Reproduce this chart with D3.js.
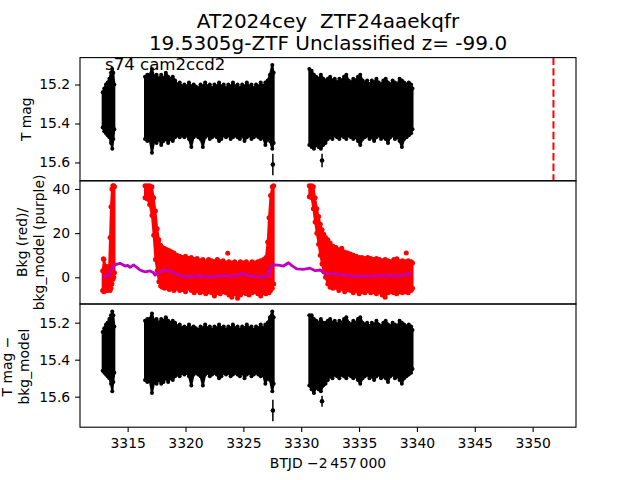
<!DOCTYPE html>
<html><head><meta charset="utf-8">
<script src="https://cdn.jsdelivr.net/npm/d3@7"></script>
<style>body{margin:0;background:#fff}svg{display:block}text{font-family:"DejaVu Sans",sans-serif}</style>
</head><body><svg id="c" width="640" height="480"></svg>
<script>
// ---------------- DATA ----------------
const titleLine1 = "AT2024cey  ZTF24aaekqfr";
const titleLine2 = "19.5305g-ZTF Unclassified z= -99.0";
const sectorLabel = "s74 cam2ccd2";
const xLabel = "BTJD \u22122\u2009457\u2009000";
const xTickValues = [3315,3320,3325,3330,3335,3340,3345,3350];
const magTickValues = [15.2,15.4,15.6];
const bkgTickValues = [0,20,40];
const eventTime = 3351.8;

// light-curve envelope (binned): times, brightest (top) and faintest (bottom) T mag incl. error bars
const lcTime = [3312.84,3312.98,3313.13,3313.27,3313.42,3313.56,3313.67,3313.76,3313.85,
3316.5,3316.7,3316.9,3317.1,3317.3,3317.5,3317.7,3317.9,3318.1,3318.3,3318.5,3318.7,3318.9,3319.1,3319.3,3319.5,3319.7,3319.9,3320.1,3320.3,3320.5,3320.7,3320.9,3321.1,3321.3,3321.5,3321.7,3321.9,3322.1,3322.3,3322.5,3322.7,3322.9,3323.1,3323.3,3323.5,3323.7,3323.9,3324.1,3324.3,3324.5,3324.7,3324.9,3325.1,3325.3,3325.5,3325.7,3325.9,3326.1,3326.3,3326.5,3326.7,3326.9,3327.1,3327.3,3327.5,3327.62,
3330.7,3330.9,3331.1,3331.3,3331.5,3331.7,3331.9,3332.1,3332.3,3332.5,3332.7,3332.9,3333.1,3333.3,3333.5,3333.7,3333.9,3334.1,3334.3,3334.5,3334.7,3334.9,3335.1,3335.3,3335.5,3335.7,3335.9,3336.1,3336.3,3336.5,3336.7,3336.9,3337.1,3337.3,3337.5,3337.7,3337.9,3338.1,3338.3,3338.5,3338.7,3338.9,3339.1,3339.3,3339.5,3339.62];
const magTop = [15.24,15.22,15.20,15.19,15.17,15.14,15.12,15.14,15.20,
15.16,15.15,15.15,15.12,15.16,15.15,15.17,15.15,15.17,15.14,15.16,15.17,15.16,15.18,15.20,15.19,15.21,15.20,15.21,15.19,15.21,15.20,15.21,15.22,15.20,15.21,15.19,15.21,15.20,15.22,15.20,15.21,15.19,15.21,15.20,15.22,15.20,15.21,15.19,15.21,15.20,15.22,15.20,15.21,15.19,15.21,15.20,15.22,15.20,15.21,15.19,15.21,15.19,15.18,15.15,15.10,15.14,
15.12,15.13,15.15,15.16,15.17,15.15,15.17,15.18,15.17,15.16,15.18,15.17,15.19,15.17,15.18,15.16,15.15,15.18,15.19,15.17,15.18,15.16,15.15,15.18,15.19,15.18,15.20,15.18,15.19,15.17,15.19,15.20,15.18,15.17,15.19,15.20,15.18,15.19,15.20,15.17,15.18,15.19,15.20,15.19,15.20,15.22];
const magBottom = [15.42,15.44,15.45,15.46,15.47,15.50,15.53,15.48,15.43,
15.48,15.49,15.48,15.55,15.49,15.50,15.48,15.51,15.49,15.48,15.50,15.48,15.49,15.47,15.46,15.47,15.46,15.47,15.46,15.48,15.52,15.47,15.46,15.47,15.48,15.52,15.47,15.46,15.48,15.47,15.46,15.47,15.49,15.48,15.46,15.47,15.46,15.48,15.47,15.46,15.47,15.48,15.46,15.49,15.47,15.46,15.48,15.47,15.46,15.47,15.48,15.47,15.51,15.48,15.49,15.53,15.50,
15.51,15.52,15.53,15.51,15.52,15.53,15.51,15.50,15.48,15.47,15.48,15.46,15.47,15.48,15.46,15.47,15.48,15.46,15.47,15.48,15.47,15.49,15.51,15.48,15.47,15.46,15.48,15.47,15.49,15.47,15.46,15.48,15.47,15.48,15.50,15.47,15.46,15.48,15.47,15.49,15.52,15.48,15.47,15.46,15.45,15.43];
// background-corrected light curve envelope (same bins)
const corrTop = [15.25,15.23,15.21,15.20,15.18,15.16,15.14,15.16,15.22,
15.19,15.18,15.18,15.15,15.19,15.18,15.20,15.18,15.19,15.17,15.19,15.20,15.19,15.20,15.22,15.21,15.23,15.22,15.23,15.21,15.23,15.22,15.23,15.24,15.22,15.23,15.21,15.23,15.22,15.24,15.22,15.23,15.21,15.23,15.22,15.24,15.22,15.23,15.21,15.23,15.22,15.24,15.22,15.23,15.21,15.23,15.22,15.24,15.22,15.23,15.21,15.23,15.21,15.20,15.17,15.14,15.17,
15.16,15.16,15.18,15.19,15.20,15.18,15.20,15.20,15.19,15.18,15.20,15.19,15.21,15.19,15.20,15.18,15.17,15.20,15.21,15.19,15.20,15.18,15.17,15.20,15.21,15.20,15.22,15.20,15.21,15.19,15.21,15.22,15.20,15.19,15.21,15.22,15.20,15.21,15.22,15.19,15.20,15.21,15.22,15.21,15.22,15.24];
const corrBottom = [15.46,15.47,15.48,15.49,15.50,15.53,15.57,15.52,15.47,
15.51,15.52,15.51,15.58,15.52,15.53,15.51,15.53,15.52,15.50,15.52,15.50,15.51,15.49,15.48,15.49,15.47,15.48,15.47,15.49,15.54,15.48,15.47,15.48,15.49,15.54,15.48,15.47,15.49,15.48,15.47,15.48,15.50,15.49,15.47,15.48,15.47,15.49,15.48,15.47,15.48,15.49,15.47,15.50,15.48,15.47,15.49,15.48,15.47,15.48,15.49,15.48,15.53,15.50,15.51,15.57,15.53,
15.54,15.56,15.58,15.55,15.56,15.57,15.54,15.53,15.51,15.49,15.50,15.48,15.49,15.50,15.48,15.49,15.50,15.48,15.49,15.50,15.49,15.51,15.53,15.50,15.49,15.48,15.50,15.49,15.51,15.49,15.48,15.50,15.49,15.50,15.52,15.49,15.48,15.50,15.49,15.51,15.53,15.50,15.49,15.48,15.47,15.45];
// isolated faint points with error bars
const outlierTime = [3327.55,3331.8];
const outlierMag = [15.61,15.59];
const outlierErr = [0.055,0.035];
const outlierCorr = [15.675,15.625];
const outlierCorrErr = [0.058,0.03];

// background flux envelope (red)
const bkgTime = [3312.84,3312.95,3313.1,3313.25,3313.4,3313.48,3313.56,3313.64,3313.72,3313.8,3313.86,
3316.5,3316.7,3316.9,3317.1,3317.25,3317.4,3317.55,3317.7,3317.85,3318.0,3318.2,3318.4,3318.6,3318.8,3319.0,3319.25,3319.5,3319.75,3320.0,3320.25,3320.5,3320.75,3321.0,3321.25,3321.5,3321.75,3322.0,3322.25,3322.5,3322.75,3323.0,3323.25,3323.5,3323.75,3324.0,3324.25,3324.5,3324.75,3325.0,3325.25,3325.5,3325.75,3326.0,3326.25,3326.5,3326.75,3326.95,3327.1,3327.22,3327.35,3327.5,3327.62,
3330.7,3330.9,3331.05,3331.2,3331.35,3331.5,3331.65,3331.8,3331.95,3332.1,3332.3,3332.5,3332.75,3333.0,3333.25,3333.5,3333.75,3334.0,3334.25,3334.5,3334.75,3335.0,3335.25,3335.5,3335.75,3336.0,3336.25,3336.5,3336.75,3337.0,3337.25,3337.5,3337.75,3338.0,3338.25,3338.5,3338.75,3339.0,3339.25,3339.5,3339.62];
const bkgHigh = [3,8,5,4,5,18,32,40,41.5,41.5,41,
41.5,41.5,41.5,41,36,30,22,17,14.5,13.5,13,12.5,12,11.5,11,10,9.5,9,9.5,8.5,9,8,8.5,7.5,8,7,8,7.5,7,8,7,7.5,6.5,7,6.5,7,6,7,6.5,7,6,7,6.5,7,7.5,8,9,16,27,37,41,41.5,
41.5,41.5,41,36,31,27.5,24,21.5,19.5,18,17,15.5,14,13.5,12.5,12,11.5,11,10.5,10,9.5,9,9,8.5,9,8.5,8,8.5,8,7.5,8,7.5,7,8,7.5,7,7.5,7,7.5,7,6.5];
const bkgLow = [-6,-6.5,-6,-6,-5.5,-6,-5,-3,-1,0,2,
36,35.5,33,28,19,8,3,-2,-4,-4.5,-5,-4,-5.5,-5,-6,-5,-6,-5.5,-6.5,-5,-6,-7,-6,-7,-6.5,-7.5,-6.5,-7,-8.5,-7,-7.5,-6.5,-7,-8,-9,-7.5,-9.5,-8,-7,-7.5,-8,-7,-6.5,-7.5,-8.5,-7,-7.5,-6,-7,-6,-5,-3,
36.5,36,31,25,20,15,10,6,2.5,0,-3,-4.5,-5,-4.5,-6,-5,-6.5,-5.5,-6,-7,-6,-7.5,-6.5,-7,-6,-7,-6.5,-7.5,-6.5,-8,-9,-7,-6.5,-7,-7.5,-6.5,-7,-6.5,-7,-6,-5];
const bkgDotTime = [3312.9,3323.65,3333.5,3338.27,3339.08];
const bkgDotValue = [8.4,10.9,13.1,8.4,11.0];

// background model (purple)
const modelTime = [3312.83,3313.1,3313.35,3313.5,3313.62,3313.8,3313.91,3314.1,3314.34,3314.55,3314.78,3315.0,3315.21,3315.35,3315.5,3315.79,3316.07,3316.3,3316.5,3316.94,3317.2,3317.37,3317.6,3317.8,3318.1,3318.38,3318.7,3318.95,3319.25,3319.53,3319.96,3320.3,3320.68,3321.0,3321.26,3321.8,3322.41,3322.9,3323.28,3323.7,3324.14,3324.6,3325.01,3325.3,3325.59,3326.0,3326.45,3327.03,3327.2,3327.32,3327.6,3328.03,3328.47,3328.9,3329.19,3329.62,3330.19,3330.77,3331.21,3331.64,3332.07,3332.6,3333.08,3333.5,3333.95,3334.4,3334.81,3335.2,3335.68,3336.1,3336.54,3337.0,3337.41,3337.8,3338.27,3338.7,3339.14,3339.57];
const modelValue = [0.6,0.5,0.9,1.8,4.1,5.0,5.6,6.0,6.3,5.8,5.1,5.4,4.5,5.0,5.6,4.5,3.3,2.8,2.5,2.9,2.2,1.0,1.8,2.5,3.0,3.3,2.6,2.1,1.5,1.0,0.0,0.4,0.3,0.8,0.6,0.2,0.3,0.6,1.0,0.5,0.6,1.2,1.8,0.9,0.6,0.4,0.3,0.3,0.8,4.5,5.6,5.5,5.1,6.6,5.3,3.8,3.6,4.1,3.0,3.3,1.8,1.7,1.5,1.2,1.0,0.6,0.3,0.6,0.3,0.5,0.6,0.8,1.0,0.7,0.6,1.0,1.5,1.5];

// ---------------- LAYOUT ----------------
const L = 80, R = 576;
const panelTop = [57.6, 180.8, 304.0];
const panelH = 123.2;
const FS = 13.9;
const svg = d3.select("#c");

const allT = lcTime.concat(bkgTime, modelTime, [eventTime]);
const [tMin, tMax] = d3.extent(allT);
const pad = 0.05 * (tMax - tMin);
const x = d3.scaleLinear().domain([tMin - pad, tMax + pad]).range([L, R]);

const y1 = d3.scaleLinear().domain([15.062, 15.694]).range([panelTop[0], panelTop[0] + panelH]);
const y2 = d3.scaleLinear().domain([-12.1, 43.7]).range([panelTop[1] + panelH, panelTop[1]]);
const y3 = d3.scaleLinear().domain([15.099, 15.765]).range([panelTop[2], panelTop[2] + panelH]);

const defs = svg.append("defs");
panelTop.forEach((t, i) => {
  defs.append("clipPath").attr("id", "clip" + i).append("rect")
    .attr("x", L).attr("y", t).attr("width", R - L).attr("height", panelH);
});

function segments(t, a, b) {
  const out = []; let cur = [];
  t.forEach((ti, i) => {
    if (cur.length && ti - cur[cur.length - 1].t > 1) { out.push(cur); cur = []; }
    cur.push({ t: ti, a: a[i], b: b[i] });
  });
  if (cur.length) out.push(cur);
  return out;
}

function band(g, y, t, a, b, color, r) {
  const segs = segments(t, a, b);
  const area = d3.area().x(d => x(d.t)).y0(d => y(d.a)).y1(d => y(d.b));
  g.selectAll(null).data(segs).join("path").attr("d", area)
    .attr("fill", color).attr("stroke", color).attr("stroke-width", 2).attr("stroke-linejoin", "round");
  const pts = segs.flat();
  g.selectAll(null).data(pts).join("circle").attr("cx", d => x(d.t)).attr("cy", d => y(d.a)).attr("r", r).attr("fill", color);
  g.selectAll(null).data(pts).join("circle").attr("cx", d => x(d.t)).attr("cy", d => y(d.b)).attr("r", r).attr("fill", color);
}

function outliers(g, y, mags, errs) {
  const d = outlierTime.map((t, i) => ({ t, m: mags[i], e: errs[i] }));
  g.selectAll(null).data(d).join("line")
    .attr("x1", p => x(p.t)).attr("x2", p => x(p.t))
    .attr("y1", p => y(p.m - p.e)).attr("y2", p => y(p.m + p.e))
    .attr("stroke", "#000").attr("stroke-width", 1.5);
  g.selectAll(null).data(d).join("circle").attr("cx", p => x(p.t)).attr("cy", p => y(p.m)).attr("r", 2.3).attr("fill", "#000");
}

// Panel 1
const g1 = svg.append("g").attr("clip-path", "url(#clip0)");
band(g1, y1, lcTime, magTop, magBottom, "#000", 2);
outliers(g1, y1, outlierMag, outlierErr);
g1.append("line").attr("x1", x(eventTime)).attr("x2", x(eventTime))
  .attr("y1", panelTop[0]).attr("y2", panelTop[0] + panelH)
  .attr("stroke", "#ff0000").attr("stroke-width", 2).attr("stroke-dasharray", "7.4,3.2");

// Panel 2
const g2 = svg.append("g").attr("clip-path", "url(#clip1)");
band(g2, y2, bkgTime, bkgLow, bkgHigh, "#ff0000", 2.5);
g2.selectAll(null).data(bkgDotTime.map((t, i) => ({ t, v: bkgDotValue[i] }))).join("circle")
  .attr("cx", d => x(d.t)).attr("cy", d => y2(d.v)).attr("r", 2.5).attr("fill", "#ff0000");
const line = d3.line().x(d => x(d.t)).y(d => y2(d.v));
g2.append("path").datum(modelTime.map((t, i) => ({ t, v: modelValue[i] })))
  .attr("d", line).attr("fill", "none").attr("stroke", "#bf00bf").attr("stroke-width", 2.8).attr("stroke-linejoin", "round");

// Panel 3
const g3 = svg.append("g").attr("clip-path", "url(#clip2)");
band(g3, y3, lcTime, corrTop, corrBottom, "#000", 2);
outliers(g3, y3, outlierCorr, outlierCorrErr);

// Frames
panelTop.forEach(t => {
  svg.append("rect").attr("x", L).attr("y", t).attr("width", R - L).attr("height", panelH)
    .attr("fill", "none").attr("stroke", "#000").attr("stroke-width", 1.1);
});

function styleAxis(g) {
  g.select(".domain").remove();
  g.selectAll(".tick line").attr("stroke", "#000").attr("stroke-width", 1.1);
  g.selectAll(".tick text").attr("fill", "#000").attr("font-size", FS).attr("font-family", "DejaVu Sans, sans-serif");
  g.attr("font-size", FS).attr("font-family", "DejaVu Sans, sans-serif");
}
const fmt1 = d3.format(".1f");
styleAxis(svg.append("g").attr("transform", `translate(${L},0)`).call(d3.axisLeft(y1).tickValues(magTickValues).tickFormat(fmt1).tickSize(4.9).tickPadding(4.9)));
styleAxis(svg.append("g").attr("transform", `translate(${L},0)`).call(d3.axisLeft(y2).tickValues(bkgTickValues).tickFormat(d3.format("d")).tickSize(4.9).tickPadding(4.9)));
styleAxis(svg.append("g").attr("transform", `translate(${L},0)`).call(d3.axisLeft(y3).tickValues(magTickValues).tickFormat(fmt1).tickSize(4.9).tickPadding(4.9)));
styleAxis(svg.append("g").attr("transform", `translate(0,${panelTop[2] + panelH})`).call(d3.axisBottom(x).tickValues(xTickValues).tickFormat(d3.format("d")).tickSize(4.9).tickPadding(6)));

// Titles and labels
svg.append("text").attr("x", 328).attr("y", 27.5).attr("text-anchor", "middle").attr("font-size", 20)
  .style("white-space", "pre").text(titleLine1);
svg.append("text").attr("x", 328).attr("y", 49.5).attr("text-anchor", "middle").attr("font-size", 20).text(titleLine2);
svg.append("text").attr("x", 105).attr("y", 69.5).attr("font-size", 16.6).text(sectorLabel);
svg.append("text").attr("x", 328).attr("y", 467.5).attr("text-anchor", "middle").attr("font-size", FS).text(xLabel);

function yLabel(lines, xs, cy) {
  lines.forEach((s, i) => {
    svg.append("text").attr("transform", `translate(${xs[i]},${cy}) rotate(-90)`)
      .attr("text-anchor", "middle").attr("font-size", FS).text(s);
  });
}
yLabel(["T mag"], [30.5], panelTop[0] + panelH / 2);
yLabel(["Bkg (red)/", "bkg_model (purple)"], [27, 43.5], panelTop[1] + panelH / 2);
yLabel(["T mag \u2212", "bkg_model"], [12, 29], panelTop[2] + panelH / 2 + 1);
</script></body></html>
